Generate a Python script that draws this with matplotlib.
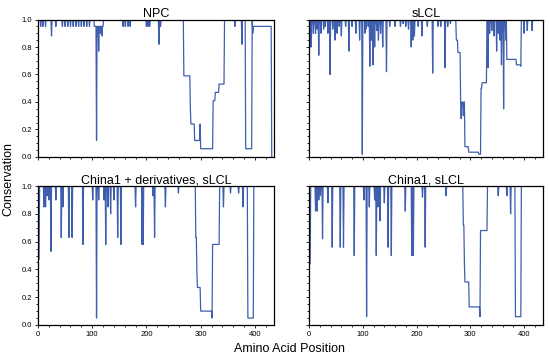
import numpy as np
import matplotlib
matplotlib.use("Agg")
import matplotlib.pyplot as plt
from matplotlib.ticker import MultipleLocator

plt.rcParams['font.family'] = ['Liberation Sans', 'DejaVu Sans']

n_pos = 432
line_color = '#3f5fae'

# values: single dips (position, conservation)
# and plateaus (start, end, conservation); everything else is 1.0
npc_dip_pos = [5, 9, 14, 25, 33, 45, 50, 55, 60, 65, 70, 75, 80, 85, 90, 95, 108, 112, 115, 118,
               157, 161, 166, 170, 200, 203, 206, 223, 226, 281, 283, 299, 363, 376, 396]
npc_dip_val = [0.95, 0.95, 0.95, 0.88, 0.95, 0.95, 0.95, 0.95, 0.95, 0.95, 0.95, 0.95, 0.95, 0.95,
               0.95, 0.95, 0.12, 0.77, 0.9, 0.88, 0.95, 0.95, 0.95, 0.95, 0.95, 0.95, 0.95, 0.82,
               0.95, 0.35, 0.3, 0.24, 0.95, 0.82, 0.9]
npc_blocks = [(104, 120, 0.95), (269, 280, 0.59), (282, 288, 0.24), (289, 298, 0.12),
              (300, 322, 0.06), (323, 326, 0.41), (327, 333, 0.47), (334, 343, 0.53),
              (383, 394, 0.06), (397, 430, 0.95), (431, 431, 0.0)]

slcl_dip_pos = [4, 8, 12, 15, 18, 22, 27, 30, 35, 39, 44, 48, 52, 56, 60, 68, 74, 80, 87, 94, 99,
                104, 106, 110, 113, 116, 119, 122, 126, 129, 133, 137, 144, 150, 160, 170, 175,
                180, 185, 190, 193, 196, 203, 210, 220, 230, 240, 245, 253, 258, 263,
                283, 285, 287, 333, 336, 340, 344, 349, 352, 355, 358, 362, 366, 400, 406, 415]
slcl_dip_val = [0.8, 0.9, 0.9, 0.93, 0.74, 0.9, 0.93, 0.95, 0.9, 0.6, 0.93, 0.85, 0.9, 0.95, 0.88,
                0.95, 0.77, 0.95, 0.9, 0.85, 0.02, 0.9, 0.93, 0.95, 0.66, 0.85, 0.67, 0.8, 0.92,
                0.85, 0.9, 0.8, 0.62, 0.95, 0.95, 0.95, 0.97, 0.95, 0.93, 0.8, 0.85, 0.88, 0.95,
                0.88, 0.95, 0.61, 0.95, 0.95, 0.65, 0.95, 0.97,
                0.28, 0.38, 0.3, 0.65, 0.9, 0.92, 0.88, 0.77, 0.9, 0.85, 0.67, 0.35, 0.85,
                0.9, 0.92, 0.92]
slcl_blocks = [(0, 2, 0.8), (274, 276, 0.85), (277, 281, 0.76), (282, 289, 0.4),
               (290, 296, 0.075), (297, 315, 0.035), (316, 319, 0.02), (320, 321, 0.5),
               (322, 330, 0.54), (368, 377, 0.71), (378, 385, 0.71), (386, 393, 0.67), (394, 394, 0.66)]

china1d_dip_pos = [11, 14, 17, 20, 24, 33, 43, 46, 57, 63, 83, 101, 108, 112, 122, 125, 129, 134,
                   140, 147, 153, 180, 192, 194, 212, 215, 235, 259, 293, 342, 355, 370, 378]
china1d_dip_val = [0.85, 0.85, 0.93, 0.9, 0.53, 0.9, 0.63, 0.85, 0.63, 0.63, 0.58, 0.9, 0.05, 0.9,
                   0.9, 0.58, 0.85, 0.8, 0.9, 0.63, 0.58, 0.85, 0.58, 0.58, 0.93, 0.63, 0.85, 0.95,
                   0.38, 0.85, 0.95, 0.95, 0.85]
china1d_blocks = [(0, 2, 0.47), (291, 292, 0.63), (294, 299, 0.27), (300, 320, 0.1),
                  (321, 321, 0.05), (322, 334, 0.58), (387, 397, 0.05)]

china1_dip_pos = [12, 15, 18, 21, 25, 35, 43, 58, 64, 84, 102, 107, 112, 122, 125, 128, 132, 140,
                  147, 153, 179, 191, 194, 211, 216, 255, 289, 352, 368, 375]
china1_dip_val = [0.82, 0.82, 0.9, 0.93, 0.62, 0.88, 0.56, 0.56, 0.56, 0.5, 0.9, 0.06, 0.85, 0.9,
                  0.5, 0.85, 0.75, 0.88, 0.56, 0.5, 0.82, 0.5, 0.5, 0.92, 0.56, 0.93, 0.45,
                  0.93, 0.93, 0.8]
china1_blocks = [(0, 2, 0.44), (287, 288, 0.72), (290, 297, 0.31), (298, 317, 0.13),
                 (318, 318, 0.06), (319, 331, 0.68), (384, 394, 0.06)]

panels = [
    ("NPC", npc_dip_pos, npc_dip_val, npc_blocks),
    ("sLCL", slcl_dip_pos, slcl_dip_val, slcl_blocks),
    ("China1 + derivatives, sLCL", china1d_dip_pos, china1d_dip_val, china1d_blocks),
    ("China1, sLCL", china1_dip_pos, china1_dip_val, china1_blocks),
]


def build_series(dip_pos, dip_val, blocks):
    y = np.ones(n_pos)
    for s, e, v in blocks:
        y[s:e + 1] = v
    for p, v in zip(dip_pos, dip_val):
        y[p] = min(y[p], v)
    return y


fig = plt.figure(figsize=(5.5, 3.58), dpi=100)
boxes = [(0.069, 0.5615, 0.429, 0.384), (0.562, 0.5615, 0.425, 0.384),
         (0.069, 0.0922, 0.429, 0.388), (0.562, 0.0922, 0.425, 0.388)]

x = np.arange(n_pos)
for i, (title, dp, dv, bl) in enumerate(panels):
    ax = fig.add_axes(boxes[i])
    y = build_series(dp, dv, bl)
    ax.plot(x, y, color=line_color, lw=0.9)
    ax.set_xlim(0, 435)
    ax.set_ylim(0, 1.0)
    ax.set_title(title, fontsize=9, pad=1.5)
    ax.xaxis.set_major_locator(MultipleLocator(100))
    ax.xaxis.set_minor_locator(MultipleLocator(20))
    ax.yaxis.set_major_locator(MultipleLocator(0.2))
    ax.yaxis.set_minor_locator(MultipleLocator(0.05))
    ax.tick_params(which='both', direction='out', labelsize=5.5, width=0.6, pad=1.5)
    ax.tick_params(which='major', length=2.5)
    ax.tick_params(which='minor', length=1.5)
    for sp in ax.spines.values():
        sp.set_linewidth(0.9)
    if i < 2:
        ax.set_xticklabels([])
    if i % 2 == 1:
        ax.set_yticklabels([])
    else:
        ax.yaxis.set_major_formatter(matplotlib.ticker.FormatStrFormatter('%.1f'))

fig.text(0.015, 0.5, "Conservation", rotation=90, va='center', ha='center', fontsize=9)
fig.text(0.527, 0.025, "Amino Acid Position", ha='center', va='center', fontsize=9)

fig.savefig("out.png", dpi=100)
